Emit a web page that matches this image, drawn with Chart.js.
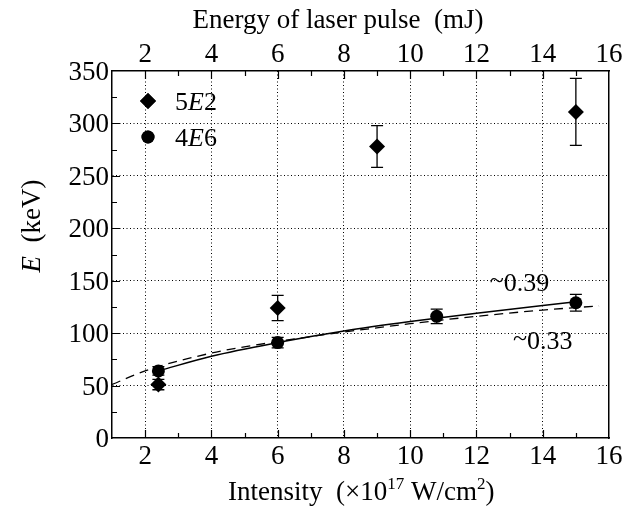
<!doctype html>
<html>
<head>
<title>Energy vs laser intensity</title>
<script src="https://cdn.jsdelivr.net/npm/chart.js@4/dist/chart.umd.min.js"></script>
<style>
body { margin: 0; background: #fff; }
#holder { width: 623px; height: 510px; }
</style>
</head>
<body>
<div id="holder"><canvas id="chart-area"></canvas></div>
<script>
// measured points, intensity in 1e17 W/cm2, energy in keV
var intens5E2 = [2.4, 6.0, 9.0, 15.0];
var energy5E2 = [51, 124, 278, 311];
var err5E2 = [5, 12, 20, 32];
var intens4E6 = [2.4, 6.0, 10.8, 15.0];
var energy4E6 = [64, 91, 116, 129];
var err4E6 = [4, 5, 7, 8];
// fit curves
var fit39X = [2.4, 4, 6, 8, 10, 12, 15];
var fit39Y = [64, 78, 91, 102, 111, 119, 130];
var fit33X = [1, 2, 4, 6, 8, 10, 12, 14, 15.7];
var fit33Y = [51, 64, 81, 92, 101, 109, 116, 122, 126];
// tick labels
var xLabels = [2, 4, 6, 8, 10, 12, 14, 16];
var yLabels = [0, 50, 100, 150, 200, 250, 300, 350];
// slope notes
var noteText = ['0.39', '0.33'];
var noteX = [12.4, 13.1];
var noteY = [149, 93];

var SERIF = "'Liberation Serif', serif";
Chart.defaults.font.family = SERIF;
Chart.defaults.color = '#000';

function pairs(xs, ys) {
    return xs.map(function(x, i) { return {x: x, y: ys[i]}; });
}

function drawRich(ctx, parts, x, y, align) {
    var w = 0;
    parts.forEach(function(p) { ctx.font = p.f; w += ctx.measureText(p.t).width; });
    var cx = align === 'center' ? x - w / 2 : x;
    ctx.textBaseline = 'alphabetic';
    ctx.textAlign = 'left';
    parts.forEach(function(p) {
        ctx.font = p.f;
        ctx.fillText(p.t, cx, y + (p.dy || 0));
        cx += ctx.measureText(p.t).width;
    });
}

var big = '26px ' + SERIF;
var bigIt = 'italic 26px ' + SERIF;
var tickF = '27px ' + SERIF;
var titleF = '27px ' + SERIF;
var small = '17px ' + SERIF;

var errorBars = {
    id: 'errorBars',
    afterDatasetsDraw: function(chart) {
        var ctx = chart.ctx, sx = chart.scales.x, sy = chart.scales.y;
        ctx.save();
        ctx.strokeStyle = '#000';
        ctx.lineWidth = 1.3;
        chart.data.datasets.forEach(function(ds) {
            if (!ds.errors) return;
            ds.data.forEach(function(p, i) {
                var px = sx.getPixelForValue(p.x);
                var top = sy.getPixelForValue(p.y + ds.errors[i]);
                var bot = sy.getPixelForValue(p.y - ds.errors[i]);
                ctx.beginPath();
                ctx.moveTo(px, top); ctx.lineTo(px, bot);
                ctx.moveTo(px - 6, top); ctx.lineTo(px + 6, top);
                ctx.moveTo(px - 6, bot); ctx.lineTo(px + 6, bot);
                ctx.stroke();
            });
        });
        ctx.restore();
    }
};

var decorations = {
    id: 'decorations',
    afterDraw: function(chart) {
        var ctx = chart.ctx, a = chart.chartArea;
        var sx = chart.scales.x, sy = chart.scales.y;
        ctx.save();
        ctx.strokeStyle = '#000';
        ctx.fillStyle = '#000';
        ctx.lineWidth = 1.2;
        // inward tick marks
        ctx.beginPath();
        sx.ticks.forEach(function(t) {
            if (t.value <= 1 || t.value >= 16) return;
            var len = t.value % 2 === 0 ? 8 : 5;
            var px = Math.round(sx.getPixelForValue(t.value)) + 0.5;
            ctx.moveTo(px, a.bottom); ctx.lineTo(px, a.bottom - len);
            ctx.moveTo(px, a.top); ctx.lineTo(px, a.top + len);
        });
        sy.ticks.forEach(function(t) {
            if (t.value <= 0 || t.value >= 350) return;
            var len = t.value % 50 === 0 ? 8 : 5;
            var py = Math.round(sy.getPixelForValue(t.value)) + 0.5;
            ctx.moveTo(a.left, py); ctx.lineTo(a.left + len, py);
        });
        ctx.stroke();

        // tick labels
        ctx.font = tickF;
        ctx.textBaseline = 'alphabetic';
        ctx.textAlign = 'center';
        xLabels.forEach(function(v) {
            var px = sx.getPixelForValue(v);
            ctx.fillText(String(v), px, a.bottom + 26);
            ctx.fillText(String(v), px, a.top - 9);
        });
        ctx.textAlign = 'right';
        yLabels.forEach(function(v) {
            ctx.fillText(String(v), a.left - 3, sy.getPixelForValue(v) + 9);
        });

        // legend
        var lx = a.left + 36;
        var ly = [a.top + 30, a.top + 66];
        Chart.helpers.drawPoint(ctx, {pointStyle: 'rectRot', radius: 8, borderWidth: 0}, lx, ly[0]);
        ctx.fill();
        Chart.helpers.drawPoint(ctx, {pointStyle: 'circle', radius: 6.5, borderWidth: 0}, lx, ly[1]);
        ctx.fill();
        drawRich(ctx, [{t: '5', f: big}, {t: 'E', f: bigIt}, {t: '2', f: big}], lx + 27, ly[0] + 9, 'left');
        drawRich(ctx, [{t: '4', f: big}, {t: 'E', f: bigIt}, {t: '6', f: big}], lx + 27, ly[1] + 9, 'left');

        // slope notes, tilde slightly raised as in the original
        noteText.forEach(function(s, i) {
            drawRich(ctx, [{t: '~', f: big, dy: -3}, {t: s, f: big}],
                     sx.getPixelForValue(noteX[i]), sy.getPixelForValue(noteY[i]) + 9, 'left');
        });

        // axis titles
        drawRich(ctx, [{t: 'Energy of laser pulse  (mJ)', f: titleF}], 338, 28, 'center');
        drawRich(ctx, [
            {t: 'Intensity  (\u00d710', f: titleF},
            {t: '17', f: small, dy: -11},
            {t: ' W/cm', f: titleF},
            {t: '2', f: small, dy: -11},
            {t: ')', f: titleF}
        ], 228, 500, 'left');
        ctx.translate(40, 226);
        ctx.rotate(-Math.PI / 2);
        drawRich(ctx, [{t: 'E', f: 'italic ' + titleF}, {t: '  (keV)', f: titleF}], 0, 0, 'center');
        ctx.restore();
    }
};

function xGridColor(c) {
    var v = c.tick ? c.tick.value : 0;
    return (v % 2 === 0 && v > 1 && v < 16) ? '#000' : 'rgba(0,0,0,0)';
}
function yGridColor(c) {
    var v = c.tick ? c.tick.value : 0;
    return (v % 50 === 0 && v > 0 && v < 350) ? '#000' : 'rgba(0,0,0,0)';
}

var config = {
    type: 'scatter',
    data: {
        datasets: [{
            label: '5E2',
            data: pairs(intens5E2, energy5E2),
            errors: err5E2,
            pointStyle: 'rectRot',
            pointRadius: 8,
            pointHoverRadius: 8,
            backgroundColor: '#000',
            borderWidth: 0,
            order: 1
        }, {
            label: '4E6',
            data: pairs(intens4E6, energy4E6),
            errors: err4E6,
            pointStyle: 'circle',
            pointRadius: 6.5,
            pointHoverRadius: 6.5,
            backgroundColor: '#000',
            borderWidth: 0,
            order: 1
        }, {
            label: 'fit 0.39',
            data: pairs(fit39X, fit39Y),
            showLine: true,
            borderColor: '#000',
            borderWidth: 1.5,
            pointRadius: 0,
            cubicInterpolationMode: 'monotone',
            order: 2
        }, {
            label: 'fit 0.33',
            data: pairs(fit33X, fit33Y),
            showLine: true,
            borderColor: '#000',
            borderWidth: 1.3,
            borderDash: [9, 6],
            pointRadius: 0,
            cubicInterpolationMode: 'monotone',
            order: 2
        }]
    },
    options: {
        responsive: true,
        maintainAspectRatio: false,
        animation: false,
        layout: {padding: 0},
        plugins: {legend: {display: false}, tooltip: {enabled: false}},
        scales: {
            x: {
                type: 'linear', position: 'bottom', min: 1, max: 16,
                ticks: {stepSize: 1, autoSkip: false, display: false},
                grid: {color: xGridColor, lineWidth: 1, drawTicks: false},
                border: {color: '#000', width: 1.5, dash: [1, 2.5]},
                afterFit: function(s) { s.height = 72; }
            },
            x2: {
                type: 'linear', position: 'top', min: 1, max: 16,
                ticks: {display: false},
                grid: {display: false, drawTicks: false},
                border: {color: '#000', width: 1.5},
                afterFit: function(s) { s.height = 71; }
            },
            y: {
                type: 'linear', position: 'left', min: 0, max: 350,
                ticks: {stepSize: 25, autoSkip: false, display: false},
                grid: {color: yGridColor, lineWidth: 1, drawTicks: false},
                border: {color: '#000', width: 1.5, dash: [1, 2.5]},
                afterFit: function(s) { s.width = 112; }
            },
            y2: {
                type: 'linear', position: 'right', min: 0, max: 350,
                ticks: {display: false},
                grid: {display: false, drawTicks: false},
                border: {color: '#000', width: 1.5},
                afterFit: function(s) { s.width = 14; }
            }
        }
    },
    plugins: [errorBars, decorations]
};

window.onload = function() {
    var ctx = document.getElementById('chart-area').getContext('2d');
    window.myChart = new Chart(ctx, config);
};
</script>
</body>
</html>
